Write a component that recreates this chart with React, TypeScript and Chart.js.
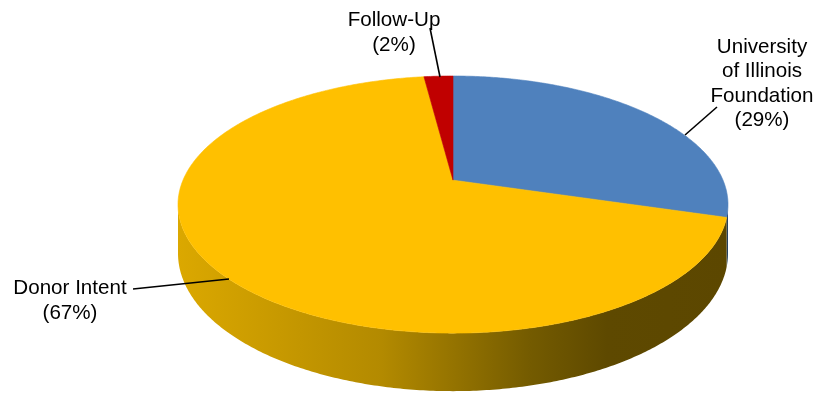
import React, { useEffect, useRef } from 'react';
import { Chart, registerables } from 'chart.js';

Chart.register(...registerables);

// ---- data ----
const CATEGORIES = ['University of Illinois Foundation', 'Donor Intent', 'Follow-Up'];
const VALUES = [29, 67, 2];
const LABEL_LINES = [['University', 'of Illinois', 'Foundation'], ['Donor Intent'], ['Follow-Up']];

// ---- style ----
const COLORS = ['#4F81BD', '#FFC000', '#C00000'];
const SIDE_STOPS: [number, string][][] = [
  [[0, '#3F6897'], [1, '#24405E']],
  [[0, '#DBA800'], [0.37, '#B38A00'], [0.64, '#745B00'], [0.78, '#5E4900'], [1, '#5C4700']],
  [[0, '#9A0000'], [1, '#600000']],
];
const K = 0.19; // perspective strength
const TILT = 0.459; // ry / rx
const DEPTH = 0.174; // depth / rx
const FONT = "20.6px 'Liberation Sans', Arial, sans-serif";
const LINE_H = 24.5;
// label layout: text center x, first line center y, leader line [from, to]
const LABEL_LAYOUT = [
  { x: 762, y: 47, line: [[717, 107], [685, 135]] },
  { x: 70, y: 288.5, line: [[133, 289], [229, 279]] },
  { x: 394, y: 20.5, line: [[430, 28], [440, 77]] },
];

type Geom = { cx: number; cy: number; rx: number; ry: number; d: number };

function project(g: Geom, a: number, h: number): [number, number] {
  const u = Math.cos(a);
  const v = Math.sin(a);
  const s = 1 / (1 - K * v);
  return [g.cx + g.rx * u * s, g.cy + (g.ry * v + g.d * h) * s];
}

const pie3d = {
  id: 'pie3d',
  beforeDatasetsDraw(chart: any) {
    const ctx = chart.ctx as CanvasRenderingContext2D;
    const area = chart.chartArea;
    const rx = ((area.right - area.left) / 2) * Math.sqrt(1 - K * K);
    const ry = rx * TILT;
    const g: Geom = {
      cx: (area.left + area.right) / 2,
      cy: area.top + ry / (1 + K),
      rx,
      ry,
      d: rx * DEPTH,
    };
    const meta = chart.getDatasetMeta(0);
    const arcs = meta.data.map((el: any) => el.getProps(['startAngle', 'endAngle'], true));
    const vis0 = Math.asin(K);
    const vis1 = Math.PI - Math.asin(K);
    const step = 0.01;

    ctx.save();
    // side walls
    arcs.forEach((arc: any, i: number) => {
      for (const off of [-2 * Math.PI, 0, 2 * Math.PI]) {
        const s = Math.max(arc.startAngle + off, vis0);
        const e = Math.min(arc.endAngle + off, vis1);
        if (e <= s) continue;
        const grad = ctx.createLinearGradient(area.left, 0, area.right, 0);
        SIDE_STOPS[i].forEach(([p, c]) => grad.addColorStop(p, c));
        ctx.beginPath();
        let t = s;
        let p = project(g, t, 0);
        ctx.moveTo(p[0], p[1]);
        for (t = s; t < e; t += step) {
          p = project(g, t, 0);
          ctx.lineTo(p[0], p[1]);
        }
        p = project(g, e, 0);
        ctx.lineTo(p[0], p[1]);
        for (t = e; t > s; t -= step) {
          p = project(g, t, 1);
          ctx.lineTo(p[0], p[1]);
        }
        p = project(g, s, 1);
        ctx.lineTo(p[0], p[1]);
        ctx.closePath();
        ctx.fillStyle = grad;
        ctx.fill();
      }
    });
    // top faces
    arcs.forEach((arc: any, i: number) => {
      ctx.beginPath();
      ctx.moveTo(g.cx, g.cy);
      for (let t = arc.startAngle; t < arc.endAngle; t += step) {
        const p = project(g, t, 0);
        ctx.lineTo(p[0], p[1]);
      }
      const p = project(g, arc.endAngle, 0);
      ctx.lineTo(p[0], p[1]);
      ctx.closePath();
      ctx.fillStyle = COLORS[i];
      ctx.fill();
      ctx.strokeStyle = COLORS[i];
      ctx.lineWidth = 0.6;
      ctx.stroke();
    });

    // labels
    ctx.font = FONT;
    ctx.fillStyle = '#000';
    ctx.textAlign = 'center';
    ctx.textBaseline = 'middle';
    LABEL_LAYOUT.forEach((lay, i) => {
      const lines = [...LABEL_LINES[i], `(${VALUES[i]}%)`];
      lines.forEach((ln, j) => ctx.fillText(ln, lay.x, lay.y + j * LINE_H));
      ctx.beginPath();
      ctx.moveTo(lay.line[0][0], lay.line[0][1]);
      ctx.lineTo(lay.line[1][0], lay.line[1][1]);
      ctx.strokeStyle = '#000';
      ctx.lineWidth = 1.6;
      ctx.stroke();
    });
    ctx.restore();
    return false;
  },
};

export default function App() {
  const ref = useRef<HTMLCanvasElement | null>(null);
  useEffect(() => {
    if (!ref.current) return;
    const chart = new Chart(ref.current, {
      type: 'pie',
      data: {
        labels: CATEGORIES,
        datasets: [{ data: VALUES, backgroundColor: COLORS, borderWidth: 0 }],
      },
      options: {
        animation: false,
        responsive: true,
        maintainAspectRatio: false,
        layout: { padding: { left: 178, right: 91, top: 76, bottom: 3 } },
        plugins: { legend: { display: false }, tooltip: { enabled: false } },
      },
      plugins: [pie3d],
    });
    return () => chart.destroy();
  }, []);
  return (
    <div style={{ position: 'fixed', left: 0, top: 0, width: 819, height: 395, background: '#fff' }}>
      <canvas ref={ref} />
    </div>
  );
}
